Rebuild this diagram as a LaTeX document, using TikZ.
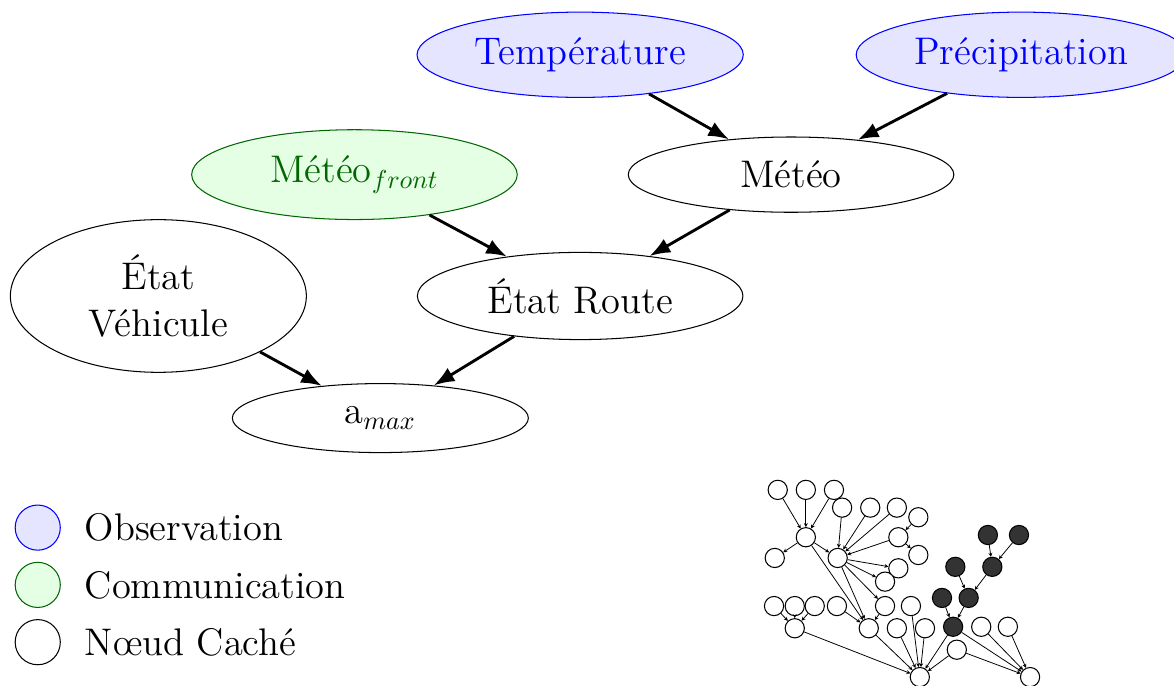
\documentclass[tikz,border=0pt]{standalone}
\usepackage{amsmath}
\usepackage{tikz}
\usetikzlibrary{arrows.meta,positioning,shapes.geometric}

\newcommand{\bigtext}{\fontsize{14.8}{17.8}\selectfont}

\begin{document}
\begin{tikzpicture}[
  var/.style={ellipse, draw, font=\bigtext, inner xsep=3.7pt, inner ysep=5pt, minimum width=4.4cm, align=center},
  obs/.style={var, draw=blue, fill=blue!10, text=blue},
  comm/.style={var, draw=green!40!black, fill=green!10, text=green!40!black},
  arr/.style={-Latex, line width=1.1pt},
  key/.style={circle, draw, minimum size=0.61cm, inner sep=0pt},
  dot/.style={circle, draw, fill=white, minimum size=0.26cm, inner sep=0pt, line width=0.4pt},
  dark/.style={dot, fill=black!80},
  link/.style={-{Stealth[length=1.5pt,width=1.5pt]}, line width=0.3pt}
]
\useasboundingbox (0,0) rectangle (15.865,-9.27);

% Network
\node[obs] (temp) at (7.84,-0.74) {Température};
\node[obs] (precip) at (13.80,-0.74) {Précipitation};
\node[var] (meteo) at (10.69,-2.36) {Météo};
\node[comm] (front) at (4.79,-2.36) {Météo$_{front}$};
\node[var, minimum width=4cm] (etatv) at (2.14,-4.0) {État\\Véhicule};
\node[var] (route) at (7.84,-4.0) {État Route};
\node[var, minimum width=4cm] (amax) at (5.14,-5.65) {a$_{max}$};

\draw[arr] (temp) -- (meteo);
\draw[arr] (precip) -- (meteo);
\draw[arr] (front) -- (route);
\draw[arr] (meteo) -- (route);
\draw[arr] (etatv) -- (amax);
\draw[arr] (route) -- (amax);

% Legend
\node[key, draw=blue, fill=blue!10] (kobs) at (0.51,-7.13) {};
\node[key, draw=green!40!black, fill=green!10, below=0.15cm of kobs] (kcomm) {};
\node[key, below=0.15cm of kcomm] (khid) {};
\node[font=\bigtext, right=0.2cm of kobs] (tobs) {Observation};
\node[font=\bigtext, right=0.2cm of kcomm] (tcomm) {Communication};
\node[font=\bigtext, right=0.2cm of khid] (thid) {N\oe ud Caché};

% Small graph
\node[dot] (t1) at (10.51,-6.62) {};
\node[dot] (t2) at (10.89,-6.62) {};
\node[dot] (t3) at (11.27,-6.62) {};
\node[dot] (ha) at (10.89,-7.26) {};
\node[dot] (a1) at (10.47,-7.54) {};
\node[dot] (u1) at (11.38,-6.86) {};
\node[dot] (u2) at (11.76,-6.86) {};
\node[dot] (u3) at (12.12,-6.86) {};
\node[dot] (u4) at (12.41,-6.99) {};
\node[dot] (w1) at (12.14,-7.26) {};
\node[dot] (w2) at (12.41,-7.50) {};
\node[dot] (hb) at (11.32,-7.54) {};
\node[dot] (r1) at (12.14,-7.68) {};
\node[dot] (r2) at (11.96,-7.86) {};
\node[dot] (c1) at (10.46,-8.19) {};
\node[dot] (c2) at (10.74,-8.19) {};
\node[dot] (c3) at (11.01,-8.19) {};
\node[dot] (hc) at (10.74,-8.49) {};
\node[dot] (d1) at (11.31,-8.19) {};
\node[dot] (d2) at (11.96,-8.19) {};
\node[dot] (hd) at (11.74,-8.49) {};
\node[dot] (e0) at (12.31,-8.19) {};
\node[dot] (e1) at (12.12,-8.49) {};
\node[dot] (e2) at (12.50,-8.49) {};
\node[dot] (he) at (12.43,-9.15) {};
\node[dark] (k1) at (13.35,-7.23) {};
\node[dark] (k2) at (13.77,-7.23) {};
\node[dark] (k3) at (12.91,-7.66) {};
\node[dark] (k4) at (13.41,-7.66) {};
\node[dark] (k5) at (12.73,-8.08) {};
\node[dark] (k6) at (13.09,-8.08) {};
\node[dark] (hk) at (12.88,-8.47) {};
\node[dot] (f1) at (13.26,-8.47) {};
\node[dot] (f2) at (13.62,-8.47) {};
\node[dot] (hm) at (12.93,-8.78) {};
\node[dot] (hf) at (13.92,-9.15) {};

\foreach \s in {t1,t2,t3} \draw[link] (\s) -- (ha);
\foreach \t in {a1,hb,hd} \draw[link] (ha) -- (\t);
\foreach \s in {u1,u2,u3,w1} \draw[link] (\s) -- (hb);
\draw[link] (u4) -- (w1);
\draw[link] (w1) -- (w2);
\foreach \t in {r1,r2,d2,hd} \draw[link] (hb) -- (\t);
\foreach \s in {c1,c2,c3} \draw[link] (\s) -- (hc);
\foreach \s in {d1,d2} \draw[link] (\s) -- (hd);
\foreach \s in {hc,hd,e0,e1,e2,hk,hm} \draw[link] (\s) -- (he);
\foreach \s in {k1,k2} \draw[link] (\s) -- (k4);
\foreach \s in {k3,k4} \draw[link] (\s) -- (k6);
\foreach \s in {k5,k6} \draw[link] (\s) -- (hk);
\foreach \s in {hk,hm,f1,f2} \draw[link] (\s) -- (hf);
\end{tikzpicture}
\end{document}
